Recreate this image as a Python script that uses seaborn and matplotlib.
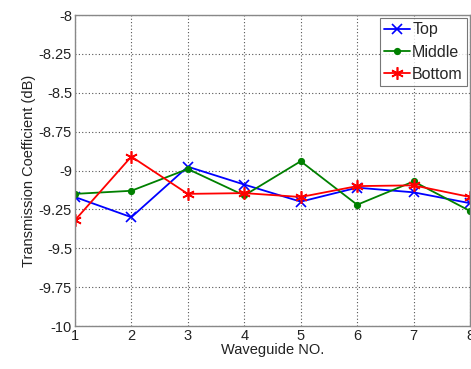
import matplotlib
matplotlib.use("Agg")
import matplotlib.pyplot as plt
import seaborn as sns
import pandas as pd
from matplotlib.ticker import FuncFormatter

waveguide = [1, 2, 3, 4, 5, 6, 7, 8]
top = [-9.17, -9.30, -8.975, -9.09, -9.20, -9.11, -9.14, -9.21]
middle = [-9.15, -9.13, -8.99, -9.16, -8.94, -9.22, -9.07, -9.26]
bottom = [-9.32, -8.91, -9.15, -9.145, -9.17, -9.10, -9.095, -9.17]
series_names = ["Top", "Middle", "Bottom"]

df = pd.concat([
    pd.DataFrame({"Waveguide": waveguide, "Value": v, "Series": n})
    for n, v in zip(series_names, [top, middle, bottom])
])

sns.set_theme(style="white")
plt.rcParams['font.family'] = ['Liberation Sans', 'DejaVu Sans']

fig = plt.figure(figsize=(4.71, 3.69), dpi=100)
ax = fig.add_axes([0.159, 0.1165, 0.839, 0.8425])

palette = {"Top": "#0000ff", "Middle": "#008000", "Bottom": "#ff0000"}
markers = {"Top": "x", "Middle": "o", "Bottom": (6, 2, 0)}
sizes = {"Top": 7, "Middle": 4, "Bottom": 9}
for n in series_names:
    sub = df[df["Series"] == n]
    sns.lineplot(data=sub, x="Waveguide", y="Value", color=palette[n],
                 marker=markers[n], markersize=sizes[n], markeredgecolor=palette[n],
                 markeredgewidth=1.2, linewidth=1.3, label=n, ax=ax)

ax.set_xlim(1, 8)
ax.set_ylim(-10, -8)
ax.set_xticks(waveguide)
ax.set_yticks([-10, -9.75, -9.5, -9.25, -9, -8.75, -8.5, -8.25, -8])
ax.yaxis.set_major_formatter(FuncFormatter(lambda v, p: f"{v:g}"))
ax.grid(True, linestyle=(0, (1, 2)), color="#555555", linewidth=0.8)
for s in ax.spines.values():
    s.set_color("#888888")
    s.set_linewidth(1.0)
ax.tick_params(direction="in", length=3, colors="#888888", labelcolor="#222222",
               labelsize=10.5, pad=2)
ax.set_xlabel("Waveguide NO.", fontsize=10.5, color="#222222", labelpad=0)
ax.set_ylabel("Transmission Coefficient (dB)", fontsize=10.5, color="#222222", labelpad=2)

leg = ax.legend(loc="upper right", fontsize=11.5, frameon=True, fancybox=False,
                edgecolor="#555555", borderpad=0.25, labelspacing=0.45,
                handlelength=1.6, handletextpad=0.15, borderaxespad=0.2)
leg.get_frame().set_linewidth(0.8)

fig.savefig("out.png", dpi=100)
